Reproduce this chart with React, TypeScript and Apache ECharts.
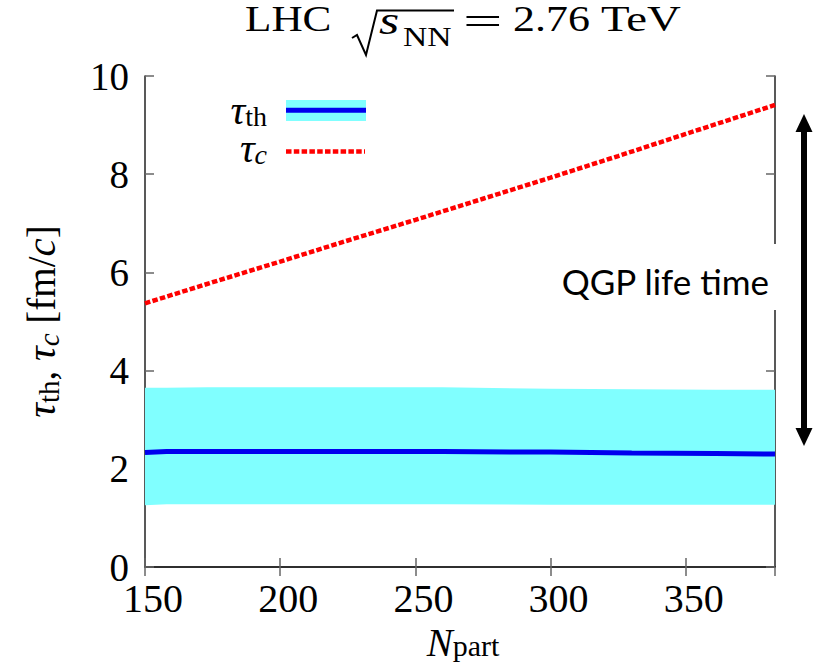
import React, { useEffect, useRef } from 'react';
import * as echarts from 'echarts';

// Thermalization time band (tau_th) vs N_part
const nPartBand = [150, 158, 173, 210, 260, 300, 330, 361, 383];
const tauThLow = [1.26, 1.28, 1.28, 1.28, 1.28, 1.27, 1.27, 1.27, 1.27];
const tauThHigh = [3.65, 3.65, 3.66, 3.66, 3.66, 3.63, 3.62, 3.61, 3.61];
const tauThMid = [2.33, 2.35, 2.35, 2.35, 2.35, 2.34, 2.32, 2.31, 2.30];

// Critical time tau_c vs N_part
const nPartC = [150, 175, 200, 225, 250, 275, 300, 325, 350, 383];
const tauC = [5.37, 5.8, 6.22, 6.65, 7.07, 7.5, 7.93, 8.37, 8.82, 9.41];

const xTickLabels = ['150', '200', '250', '300', '350'];
const yTickLabels = ['0', '2', '4', '6', '8', '10'];

const SERIF = '"Liberation Serif", "DejaVu Serif", serif';
const SANS = 'Lato, "Open Sans", sans-serif';

const pairs = (xs: number[], ys: number[]) => xs.map((x, i) => [x, ys[i]]);

export default function App() {
  const ref = useRef<HTMLDivElement>(null);
  useEffect(() => {
    if (!ref.current) return;
    const chart = echarts.init(ref.current, undefined, { renderer: 'svg' });
    const axisLine = { show: true, lineStyle: { color: '#222', width: 1.5 } };
    const axisTick = { show: true, inside: true, length: 9, lineStyle: { color: '#666', width: 1.5 } };
    const titleText = (text: string, x: number, y: number, size: number, sx: number, extra: any = {}) => ({
      type: 'text',
      x,
      y,
      scaleX: sx,
      style: {
        text,
        fontFamily: SERIF,
        fontSize: size,
        lineHeight: Math.round(size * 0.8),
        fill: '#000',
        verticalAlign: 'middle',
        align: 'left',
        ...extra,
      },
      z: 40,
    });
    const option: any = {
      animation: false,
      backgroundColor: '#fff',
      grid: { left: 145, right: 42, top: 76, bottom: 97, containLabel: false, outerBoundsMode: 'none' },
      xAxis: [
        {
          type: 'value',
          min: 150,
          max: 383,
          interval: 50,
          position: 'bottom',
          axisLine,
          axisTick,
          splitLine: { show: false },
          axisLabel: {
            showMaxLabel: false,
            fontFamily: SERIF,
            fontSize: 40,
            color: '#000',
            margin: 11,
            padding: [0, 0, 0, 16],
            formatter: (v: number) => (xTickLabels.includes(String(v)) ? String(v) : ''),
          },
          name: '{it|N}{sub|part}',
          nameLocation: 'middle',
          nameGap: 42,
          nameTextStyle: {
            padding: [0, 0, 0, 6],
            rich: {
              it: { fontFamily: SERIF, fontStyle: 'italic', fontSize: 39, color: '#000', lineHeight: 36, verticalAlign: 'middle' },
              sub: { fontFamily: SERIF, fontSize: 30, color: '#000', lineHeight: 20, verticalAlign: 'bottom' },
            },
          },
        },
        {
          type: 'value',
          min: 150,
          max: 383,
          interval: 50,
          position: 'top',
          axisLine,
          axisTick,
          axisLabel: { show: false },
          splitLine: { show: false },
        },
      ],
      yAxis: [
        {
          type: 'value',
          min: 0,
          max: 10,
          interval: 2,
          position: 'left',
          axisLine,
          axisTick,
          splitLine: { show: false },
          axisLabel: {
            fontFamily: SERIF,
            fontSize: 39,
            color: '#000',
            margin: 16,
            formatter: (v: number) => (yTickLabels.includes(String(v)) ? String(v) : ''),
          },
          name: '{it|τ}{sub|th}{n|, }{it|τ}{subi|c}{n| [fm/}{it|c}{n|]}',
          nameLocation: 'middle',
          nameGap: 82,
          nameRotate: 90,
          nameTextStyle: {
            rich: {
              it: { fontFamily: SERIF, fontStyle: 'italic', fontSize: 41, color: '#000', lineHeight: 44, verticalAlign: 'middle' },
              n: { fontFamily: SERIF, fontSize: 39, color: '#000', lineHeight: 44, verticalAlign: 'middle' },
              sub: { fontFamily: SERIF, fontSize: 29, color: '#000', lineHeight: 26, verticalAlign: 'bottom' },
              subi: { fontFamily: SERIF, fontStyle: 'italic', fontSize: 29, color: '#000', lineHeight: 26, verticalAlign: 'bottom' },
            },
          },
        },
        {
          type: 'value',
          min: 0,
          max: 10,
          interval: 2,
          position: 'right',
          axisLine,
          axisTick,
          axisLabel: { show: false },
          splitLine: { show: false },
        },
      ],
      series: [
        {
          name: 'band',
          type: 'custom',
          data: nPartBand.map((x, i) => [x, tauThLow[i], tauThHigh[i]]),
          encode: { x: 0, y: [1, 2] },
          silent: true,
          z: 1,
          renderItem: (params: any, api: any) => {
            if (params.dataIndex !== 0) return null;
            const top = nPartBand.map((x, i) => api.coord([x, tauThHigh[i]]));
            const bot = nPartBand.map((x, i) => api.coord([x, tauThLow[i]])).reverse();
            return { type: 'polygon', shape: { points: top.concat(bot) }, style: { fill: '#80ffff' } };
          },
        },
        {
          name: 'τth',
          type: 'line',
          data: pairs(nPartBand, tauThMid),
          symbol: 'none',
          lineStyle: { color: '#0000ee', width: 5 },
          z: 3,
        },
        {
          name: 'τc',
          type: 'line',
          data: pairs(nPartC, tauC),
          symbol: 'none',
          lineStyle: { color: '#ff0000', width: 4.5, type: [5.5, 2.3] },
          z: 3,
        },
      ],
      graphic: [
        // title: LHC sqrt(s_NN) = 2.76 TeV
        titleText('LHC', 245, 19, 36, 1.2),
        {
          type: 'polyline',
          shape: { points: [[352, 38], [357, 35], [366, 55], [377, 10.5], [454, 10.5]] },
          style: { stroke: '#000', lineWidth: 2, fill: null },
          z: 40,
        },
        titleText('s', 379, 21, 40, 1.3, { fontStyle: 'italic' }),
        titleText('NN', 403, 36, 28, 1.2),
        titleText('=', 463, 21, 40, 1.75),
        titleText('2.76', 513, 19, 36, 1.22),
        titleText('TeV', 601, 19, 36, 1.3),
        // legend
        {
          type: 'text',
          x: 267,
          y: 110,
          style: {
            text: '{it|τ}{sub|th}',
            align: 'right',
            verticalAlign: 'middle',
            rich: {
              it: { fontFamily: SERIF, fontStyle: 'italic', fontSize: 41, fill: '#000', lineHeight: 40, verticalAlign: 'middle' },
              sub: { fontFamily: SERIF, fontSize: 28, fill: '#000', lineHeight: 24, verticalAlign: 'bottom' },
            },
          },
          z: 20,
        },
        { type: 'rect', shape: { x: 286, y: 100, width: 80, height: 21 }, style: { fill: '#80ffff' }, z: 20 },
        { type: 'line', shape: { x1: 286, y1: 110.3, x2: 366, y2: 110.3 }, style: { stroke: '#0000ee', lineWidth: 5 }, z: 21 },
        {
          type: 'text',
          x: 267,
          y: 148,
          style: {
            text: '{it|τ}{sub|c}',
            align: 'right',
            verticalAlign: 'middle',
            rich: {
              it: { fontFamily: SERIF, fontStyle: 'italic', fontSize: 41, fill: '#000', lineHeight: 40, verticalAlign: 'middle' },
              sub: { fontFamily: SERIF, fontStyle: 'italic', fontSize: 28, fill: '#000', lineHeight: 24, verticalAlign: 'bottom' },
            },
          },
          z: 20,
        },
        { type: 'line', shape: { x1: 286, y1: 151.5, x2: 365, y2: 151.5 }, style: { stroke: '#ff0000', lineWidth: 4.5, lineDash: [5.5, 2.3] }, z: 21 },
        // white box behind annotation
        { type: 'rect', shape: { x: 560, y: 244, width: 225, height: 66 }, style: { fill: '#fff' }, z: 30 },
        {
          type: 'text',
          x: 769,
          y: 281,
          style: { text: 'QGP life time', fontFamily: SANS, fontSize: 35, fill: '#000', align: 'right', verticalAlign: 'middle' },
          z: 31,
        },
        // double-headed arrow
        { type: 'line', shape: { x1: 804, y1: 128, x2: 804, y2: 432 }, style: { stroke: '#000', lineWidth: 6 }, z: 30 },
        { type: 'polygon', shape: { points: [[804, 114], [795.5, 132], [812.5, 132]] }, style: { fill: '#000' }, z: 30 },
        { type: 'polygon', shape: { points: [[804, 446], [795.5, 428], [812.5, 428]] }, style: { fill: '#000' }, z: 30 },
      ],
    };
    chart.setOption(option);
    return () => chart.dispose();
  }, []);
  return <div ref={ref} style={{ width: 817, height: 664, position: 'absolute', left: 0, top: 0 }} />;
}
